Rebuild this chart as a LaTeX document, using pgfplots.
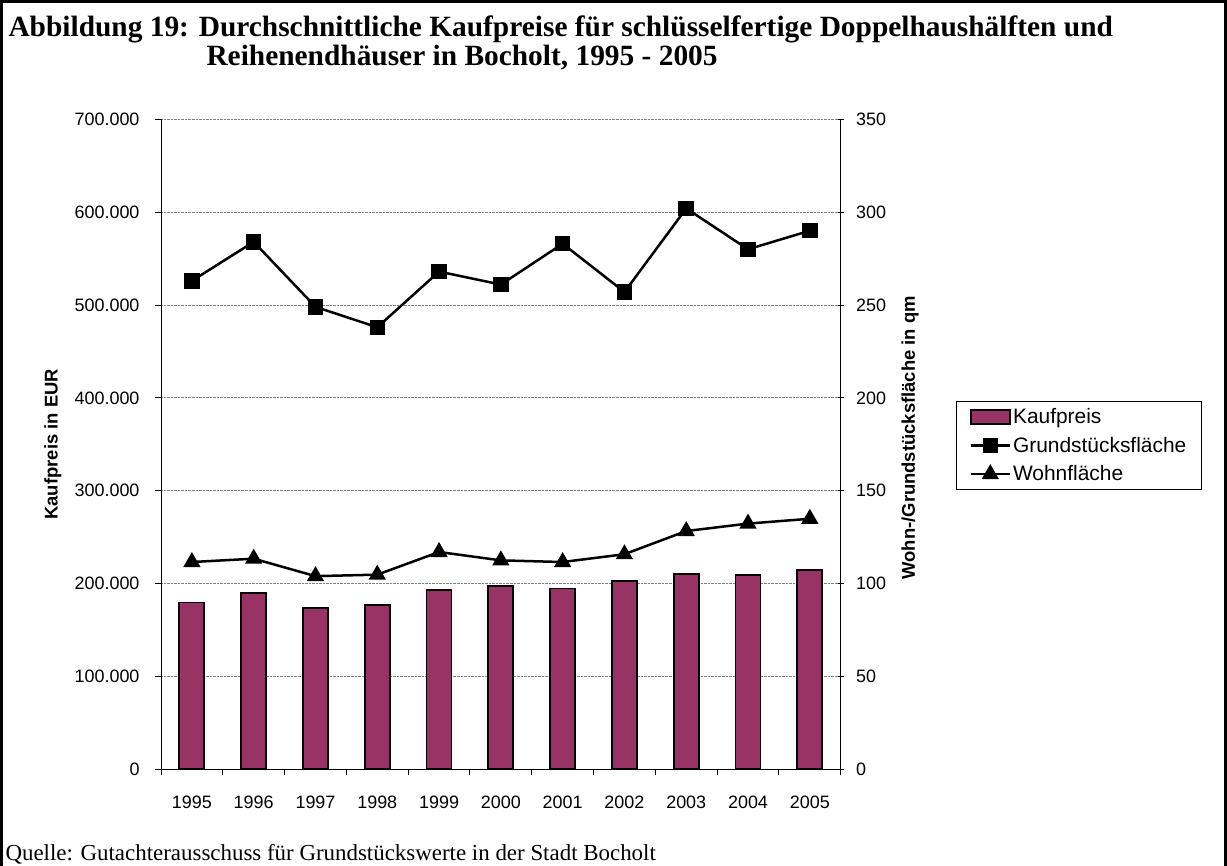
\documentclass[border=0pt]{standalone}
\usepackage{fontspec}
\setmainfont{Liberation Sans}
\newfontfamily\timesfont{Liberation Serif}
\usepackage{pgfplots}
\pgfplotsset{compat=1.18}
\definecolor{plum}{RGB}{153,51,102}

\begin{document}
\begin{tikzpicture}[x=1bp,y=1bp]
\useasboundingbox (0,0) rectangle (1227,866);
% outer frame
\draw[line width=2.5bp] (1.5,0) -- (1.5,864.5) -- (1225.5,864.5) -- (1225.5,0);

\node[anchor=base west,font=\timesfont\bfseries\fontsize{29.5}{34}\selectfont] at (5,829)
  {Abbildung 19: Durchschnittliche Kaufpreise für schlüsselfertige Doppelhaushälften und};
\node[anchor=base west,font=\timesfont\bfseries\fontsize{29.5}{34}\selectfont] at (203,800)
  {Reihenendhäuser in Bocholt, 1995 - 2005};
\node[anchor=base west,font=\timesfont\fontsize{23}{27}\selectfont] at (2,5)
  {Quelle: Gutachterausschuss für Grundstückswerte in der Stadt Bocholt};

\pgfplotsset{
  every axis/.append style={font=\fontsize{18}{21}\selectfont},
  basis/.style={
    at={(161bp,96.7bp)}, anchor=south west,
    scale only axis, width=679.7bp, height=650bp,
    xmin=-0.5, xmax=10.5, ymin=0,
    axis line style={line width=1bp},
    every tick/.style={black, line width=1bp},
    major tick length=6bp, minor tick length=6bp,
    yticklabel style={/pgf/number format/fixed, /pgf/number format/1000 sep={.},
      /pgf/number format/assume math mode=true},
    xticklabel style={/pgf/number format/assume math mode=true},
  }
}

% left axis with bars
\begin{axis}[basis,
  ymax=700000,
  axis x line*=bottom, axis y line*=left,
  xtick={0,...,10},
  xticklabels={1995,1996,1997,1998,1999,2000,2001,2002,2003,2004,2005},
  xticklabel style={yshift=-17bp},
  yticklabel style={xshift=-12bp},
  major x tick style={draw=none},
  minor xtick={-0.5,0.5,...,10.5},
  ytick={0,100000,...,700000},
  scaled y ticks=false,
  tick align=outside,
  ymajorgrids, grid style={gray, densely dotted, line width=0.8bp},
  ylabel={Kaufpreis in EUR},
  ylabel style={font=\bfseries\fontsize{18.5}{21}\selectfont, at={(axis description cs:-0.159,0.5)}, anchor=center},
]
\addplot[ybar, bar width=25bp, fill=plum, draw=black, line width=1.8bp] coordinates {
  (0,179600) (1,190000) (2,173500) (3,177000) (4,193500) (5,197500)
  (6,194600) (7,202500) (8,210000) (9,209300) (10,214700)
};
\end{axis}

% right axis with lines
\begin{axis}[basis,
  ymax=350,
  axis x line=none, axis y line*=right,
  ytick={0,50,...,350},
  yticklabel style={xshift=9bp},
  tick align=center,
  ylabel={Wohn-/Grundstücksfläche in qm},
  ylabel style={font=\bfseries\fontsize{18.5}{21}\selectfont, at={(axis description cs:1.102,0.51)}, anchor=center},
  legend style={at={(axis description cs:1.1697,0.5666)}, anchor=north west,
    draw=black, line width=1bp, inner xsep=13bp, inner ysep=5bp,
    row sep=8bp, font=\fontsize{21}{24}\selectfont,
    nodes={inner sep=2bp}},
  legend cell align=left,
  legend image code/.code={\draw[mark repeat=2,mark phase=2,#1]
    plot coordinates {(0bp,0bp) (19.5bp,0bp) (39bp,0bp)};},
]
\addlegendimage{legend image code/.code={\draw[fill=plum,draw=black,line width=1.5bp] (0bp,-7bp) rectangle (39bp,7bp);}}
\addlegendentry{Kaufpreis}
\addplot[black, line width=2.5bp, mark=square*, mark size=6.5bp, mark options={solid}] coordinates {
  (0,263) (1,284) (2,249) (3,238) (4,268) (5,261)
  (6,283) (7,257) (8,302) (9,280) (10,290)
};
\addlegendentry{Grundstücksfläche}
\addplot[black, line width=2.5bp, mark=triangle*, mark size=7.5bp, mark options={solid}] coordinates {
  (0,111.6) (1,113.4) (2,104) (3,104.8) (4,117) (5,112.5)
  (6,111.6) (7,115.8) (8,128.3) (9,132.3) (10,134.9)
};
\addlegendentry{Wohnfläche}
\end{axis}
\end{tikzpicture}
\end{document}
